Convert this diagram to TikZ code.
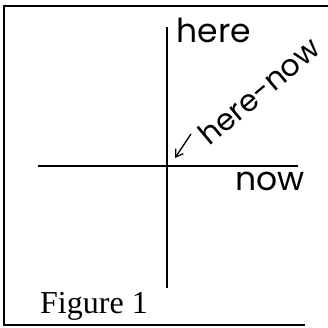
\documentclass[tikz,border=0pt]{standalone}
\usepackage{fontspec}
\setmainfont{Liberation Serif}
\newfontfamily\hand{Poppins}
\usetikzlibrary{arrows.meta}
\begin{document}
\begin{tikzpicture}[x=1pt,y=-1pt,
  frameline/.style={line width=1.8pt},
  axis/.style={line width=1.6pt},
  handlbl/.style={font=\hand\fontsize{33}{33}\selectfont, inner sep=0pt},
  ptr/.style={line width=1.3pt, -{Straight Barb[length=7pt,width=9pt]}}]
\useasboundingbox (0,0) rectangle (328,328);
% frame
\coordinate (tl) at (4,6);
\coordinate (tr) at (328,6);
\coordinate (bl) at (4,325);
\coordinate (br) at (305,325);
\draw[frameline] (tr) -- (tl) -- (bl) -- (br);
% axes
\coordinate (xl) at (38,166);
\coordinate (xr) at (298,166);
\coordinate (yt) at (167,27);
\coordinate (yb) at (167,288);
\draw[axis] (xl) -- (xr);
\draw[axis] (yt) -- (yb);
% labels
\node[handlbl] (here) at (214,30) {here};
\node[handlbl] (now) at (270,181) {now};
\node[handlbl, font=\hand\fontsize{30}{30}\selectfont, rotate=40] (hn) at (259,91) {here-now};
\coordinate (origin) at (175,158);
\coordinate (arrstart) at (191,134);
\draw[ptr] (arrstart) -- (origin);
\node[font=\fontsize{32}{32}\selectfont, inner sep=0pt, anchor=base west] (fig) at (40,313) {Figure 1};
\end{tikzpicture}
\end{document}
